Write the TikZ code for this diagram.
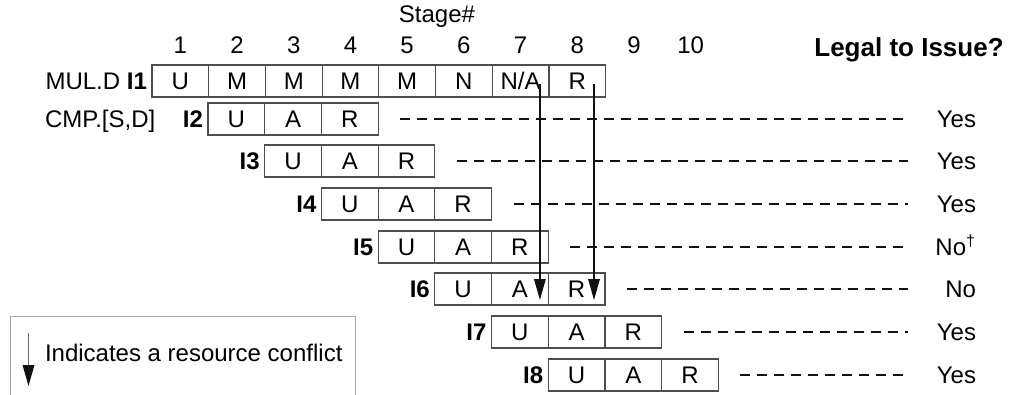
\documentclass[tikz,border=0pt]{standalone}
\usepackage{fontspec}
\setmainfont{Liberation Sans}
\usetikzlibrary{arrows.meta,positioning}
\definecolor{gridgray}{HTML}{4D4D4D}
\definecolor{framegray}{HTML}{A6A6A6}
\definecolor{inkgray}{HTML}{111111}
\tikzset{
  txt/.style={inner sep=0pt,outer sep=0pt,text height=8.6pt,text depth=0pt,font=\fontsize{12}{14}\selectfont},
  cell/.style={txt,rectangle,draw=gridgray,line width=0.6pt,minimum width=28.35pt,minimum height=16pt},
  tag/.style={txt,font=\fontsize{12}{14}\selectfont\bfseries},
  verdict/.style={txt,anchor=east},
  leader/.style={draw=inkgray,line width=0.65pt,dash pattern=on 5pt off 3.5pt},
  conflict/.style={-{Triangle[length=10.5pt,width=5.8pt,color=inkgray]},draw=#1,line width=0.6pt},
  conflict/.default=inkgray,
  keyframe/.style={rectangle,draw=framegray,line width=0.5pt,inner sep=0pt}
}

\begin{document}
\begin{tikzpicture}[x=0.5pt,y=-0.5pt]
\useasboundingbox (0,0) rectangle (1010,395);
% heading and stage numbers
\node[txt] (stagehead) at (437,13.5) {Stage\#};
\foreach \k in {1,...,10}
  \node[txt] (s\k) at ({152+56.7*(\k-0.5)},44.5) {\k};
\node[tag,text height=9.3pt,font=\fontsize{13}{15}\selectfont\bfseries] (legalhead) at (909,47) {Legal to Issue?};
\coordinate (dashend) at (908,0);
% I1 -- MUL.D
\node[cell,anchor=west] (i1c1) at (152,81) {U};
\node[cell,right=0pt of i1c1] (i1c2) {M};
\node[cell,right=0pt of i1c2] (i1c3) {M};
\node[cell,right=0pt of i1c3] (i1c4) {M};
\node[cell,right=0pt of i1c4] (i1c5) {M};
\node[cell,right=0pt of i1c5] (i1c6) {N};
\node[cell,right=0pt of i1c6] (i1c7) {N/A};
\node[cell,right=0pt of i1c7] (i1c8) {R};
\node[tag,left=2.5pt of i1c1] (t1) {I1};
\node[txt,left=3.4pt of t1] (op1) {MUL.D};
% I2 .. I8 -- CMP.[S,D]
\foreach \r/\y/\v in {2/119/Yes,3/161/Yes,4/204/Yes,5/247/No\textsuperscript{\dag},6/289/No,7/332/Yes,8/375/Yes}{
  \node[cell,anchor=west] (i\r-u) at ({208+56.7*(\r-2)},\y) {U};
  \node[cell,right=0pt of i\r-u] (i\r-a) {A};
  \node[cell,right=0pt of i\r-a] (i\r-r) {R};
  \node[tag,left=2.5pt of i\r-u] (t\r) {I\r};
  \node[verdict] (v\r) at (976,\y) {\v};
  \draw[leader] ([xshift=11pt]i\r-r.east) -- (dashend |- v\r);
}
\node[txt,anchor=west] (op2) at (45,119) {CMP.[S,D]};
% resource conflicts
\draw[conflict] ([xshift=-4.5pt,yshift=-1.5pt]i1c7.east) -- ([xshift=-4.5pt,yshift=2.5pt]i1c7.east |- i6-a.south);
\draw[conflict] ([xshift=-5.8pt,yshift=-1.5pt]i1c8.east) -- ([xshift=-5.8pt,yshift=2.5pt]i1c8.east |- i6-r.south);
% key
\node[keyframe,anchor=north west,minimum width=172.5pt,minimum height=45pt] (keybox) at (10,316) {};
\coordinate (keytop) at (28.5,333);
\coordinate (keybot) at (28.5,386);
\draw[conflict=gridgray!85] (keytop) -- (keybot);
\node[txt,anchor=west] (keytext) at (45,352.5) {Indicates a resource conflict};
\end{tikzpicture}
\end{document}
